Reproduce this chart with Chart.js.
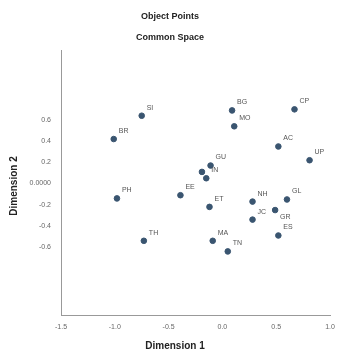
<!DOCTYPE html>
<html>
<head>
<meta charset="utf-8">
<script src="https://cdn.jsdelivr.net/npm/chart.js@4"></script>
<style>
  html, body { margin: 0; padding: 0; background: #fff; }
  #wrap { width: 338px; height: 354px; }
</style>
</head>
<body>
<div id="wrap"><canvas id="chart"></canvas></div>
<script>
// object labels and their coordinates in the common space
const objectLabels = ["SI", "BR", "PH", "BG", "MO", "CP", "AC", "UP", "GU", "", "IN", "EE", "ET", "NH", "GL", "GR", "JC", "ES", "TH", "MA", "TN"];
const dim1 = [-0.75, -1.01, -0.98, 0.09, 0.11, 0.67, 0.52, 0.81, -0.11, -0.19, -0.15, -0.39, -0.12, 0.28, 0.60, 0.49, 0.28, 0.52, -0.73, -0.09, 0.05];
const dim2 = [0.64, 0.42, -0.14, 0.69, 0.54, 0.70, 0.35, 0.22, 0.17, 0.11, 0.05, -0.11, -0.22, -0.17, -0.15, -0.25, -0.34, -0.49, -0.54, -0.54, -0.64];

const xTicks = [-1.5, -1.0, -0.5, 0.0, 0.5, 1.0];
const yTicks = [-0.6, -0.4, -0.2, 0.0, 0.2, 0.4, 0.6];

const points = dim1.map((x, i) => ({ x: x, y: dim2[i] }));

const fontFamily = "'Liberation Sans', Arial, sans-serif";

// labels that sit below the point instead of above
const labelsBelow = ["GR"];

// draws titles, axis titles and point labels
const textPlugin = {
    id: "textPlugin",
    afterDraw(chart) {
        const ctx = chart.ctx;
        ctx.save();
        ctx.fillStyle = "#222";
        ctx.textAlign = "center";
        ctx.textBaseline = "middle";
        ctx.font = "bold 9px " + fontFamily;
        ctx.fillText("Object Points", 170, 17);
        ctx.fillText("Common Space", 170, 38);

        ctx.font = "bold 10px " + fontFamily;
        ctx.fillText("Dimension 1", 175, 346);

        ctx.translate(14, 186);
        ctx.rotate(-Math.PI / 2);
        ctx.fillText("Dimension 2", 0, 0);
        ctx.restore();

        ctx.save();
        const meta = chart.getDatasetMeta(0);
        ctx.font = "7px " + fontFamily;
        ctx.fillStyle = "#555";
        ctx.textAlign = "left";
        ctx.textBaseline = "middle";
        meta.data.forEach((pt, i) => {
            const label = objectLabels[i];
            if (!label) return;
            const dy = labelsBelow.includes(label) ? 7 : -8;
            ctx.fillText(label, pt.x + 5, pt.y + dy);
        });
        ctx.restore();
    }
};

new Chart(document.getElementById("chart"), {
    type: "scatter",
    data: {
        datasets: [{
            data: points,
            backgroundColor: "#3a5570",
            borderColor: "#3a5570",
            pointRadius: 2.8,
            pointHoverRadius: 2.8
        }]
    },
    options: {
        responsive: true,
        maintainAspectRatio: false,
        animation: false,
        layout: {
            padding: { top: 50, right: 8, left: 0, bottom: 0 }
        },
        plugins: {
            legend: { display: false },
            tooltip: { enabled: false }
        },
        scales: {
            x: {
                type: "linear",
                min: -1.5,
                max: 1.0,
                afterFit: (scale) => { scale.height = 39; },
                afterBuildTicks: (scale) => { scale.ticks = xTicks.map(v => ({ value: v })); },
                grid: { display: false },
                border: { display: true, color: "#999", width: 1 },
                ticks: {
                    color: "#666",
                    font: { size: 7, family: fontFamily },
                    padding: 0,
                    maxRotation: 0,
                    callback: (v) => v.toFixed(1)
                }
            },
            y: {
                type: "linear",
                min: -1.24,
                max: 1.26,
                afterFit: (scale) => { scale.width = 61; },
                afterBuildTicks: (scale) => { scale.ticks = yTicks.map(v => ({ value: v })); },
                grid: { display: false },
                border: { display: true, color: "#999", width: 1 },
                ticks: {
                    color: "#666",
                    font: { size: 7, family: fontFamily },
                    padding: 2,
                    callback: (v) => Math.abs(v) < 1e-9 ? "0.0000" : v.toFixed(1)
                }
            }
        }
    },
    plugins: [textPlugin]
});
</script>
</body>
</html>
